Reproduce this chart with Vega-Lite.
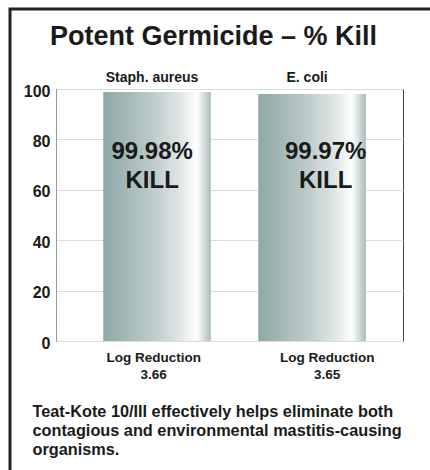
{
  "$schema": "https://vega.github.io/schema/vega-lite/v6.json",
  "width": 347,
  "height": 252,
  "autosize": {"type": "none"},
  "padding": {"left": 56, "top": 89, "right": 27, "bottom": 129},
  "background": "white",
  "title": {
    "text": "Potent Germicide – % Kill",
    "font": "Liberation Sans",
    "fontSize": 27,
    "fontWeight": "bold",
    "color": "#1a1a1a",
    "anchor": "middle",
    "baseline": "alphabetic",
    "dx": -16,
    "offset": -64
  },
  "data": {
    "values": [
      {"organism": "Staph. aureus", "kill": 98.8, "killLabel": "99.98%\nKILL", "logRed": "3.66"},
      {"organism": "E. coli", "kill": 98.0, "killLabel": "99.97%\nKILL", "logRed": "3.65"}
    ]
  },
  "config": {
    "font": "Liberation Sans",
    "view": {"stroke": "#444", "strokeWidth": 1}
  },
  "layer": [
    {
      "mark": {
        "type": "bar",
        "fill": {
          "gradient": "linear",
          "x1": 0, "x2": 1, "y1": 0, "y2": 0,
          "stops": [
            {"offset": 0, "color": "#8ea8a5"},
            {"offset": 0.45, "color": "#bccaca"},
            {"offset": 0.72, "color": "#e0e7e6"},
            {"offset": 0.87, "color": "#ffffff"},
            {"offset": 1, "color": "#a8bbba"}
          ]
        }
      },
      "encoding": {
        "x": {
          "field": "organism", "type": "nominal", "sort": null,
          "scale": {"paddingInner": 0.306, "paddingOuter": 0.272, "align": 0.56},
          "axis": {
            "orient": "top", "title": null, "labelAngle": 0,
            "labelFontSize": 14, "labelFontWeight": "bold", "labelColor": "#1a1a1a",
            "labelPadding": 5, "labelOffset": -5, "ticks": false, "domain": false
          }
        },
        "y": {
          "field": "kill", "type": "quantitative",
          "scale": {"domain": [0, 100], "nice": false},
          "axis": {
            "title": null, "values": [0, 20, 40, 60, 80, 100],
            "labelFontSize": 16, "labelFontWeight": "bold", "labelColor": "#1a1a1a",
            "labelPadding": 6, "labelOffset": 2, "ticks": false,
            "domainColor": "#999999", "gridColor": "#dcdcdc"
          }
        }
      }
    },
    {
      "mark": {
        "type": "text", "fontSize": 24, "fontWeight": "bold",
        "lineBreak": "\n", "lineHeight": 29, "baseline": "alphabetic", "align": "center", "dx": -1
      },
      "encoding": {
        "x": {
          "field": "logRed", "type": "nominal", "sort": null,
          "scale": {"paddingInner": 0.306, "paddingOuter": 0.272, "align": 0.56},
          "axis": {
            "orient": "bottom", "labelAngle": 0,
            "labelExpr": "['Log Reduction', datum.label]",
            "labelFontSize": 13.5, "labelFontWeight": "bold", "labelColor": "#1a1a1a",
            "labelLineHeight": 17, "labelPadding": 9, "ticks": false, "domain": false,
            "title": ["Teat-Kote 10/III effectively helps eliminate both", "contagious and environmental mastitis-causing", "organisms."],
            "titleFontSize": 16.3, "titleFontWeight": "bold", "titleColor": "#1a1a1a",
            "titleAnchor": "start", "titleAlign": "left", "titleAngle": 0,
            "titleX": -24, "titleY": 75, "titleBaseline": "alphabetic", "titleLineHeight": 19
          }
        },
        "y": {"datum": 72.2, "type": "quantitative"},
        "text": {"field": "killLabel"},
        "color": {
          "datum": "frame",
          "scale": {"range": ["#1a1a1a"]},
          "legend": {
            "orient": "none", "legendX": -46, "legendY": -80,
            "strokeColor": "#222222", "padding": 250,
            "title": null, "symbolOpacity": 0, "labelOpacity": 0,
            "encode": {"legend": {"update": {"strokeWidth": {"value": 3}}}}
          }
        }
      }
    }
  ],
  "resolve": {"scale": {"x": "independent"}, "axis": {"x": "independent"}}
}
